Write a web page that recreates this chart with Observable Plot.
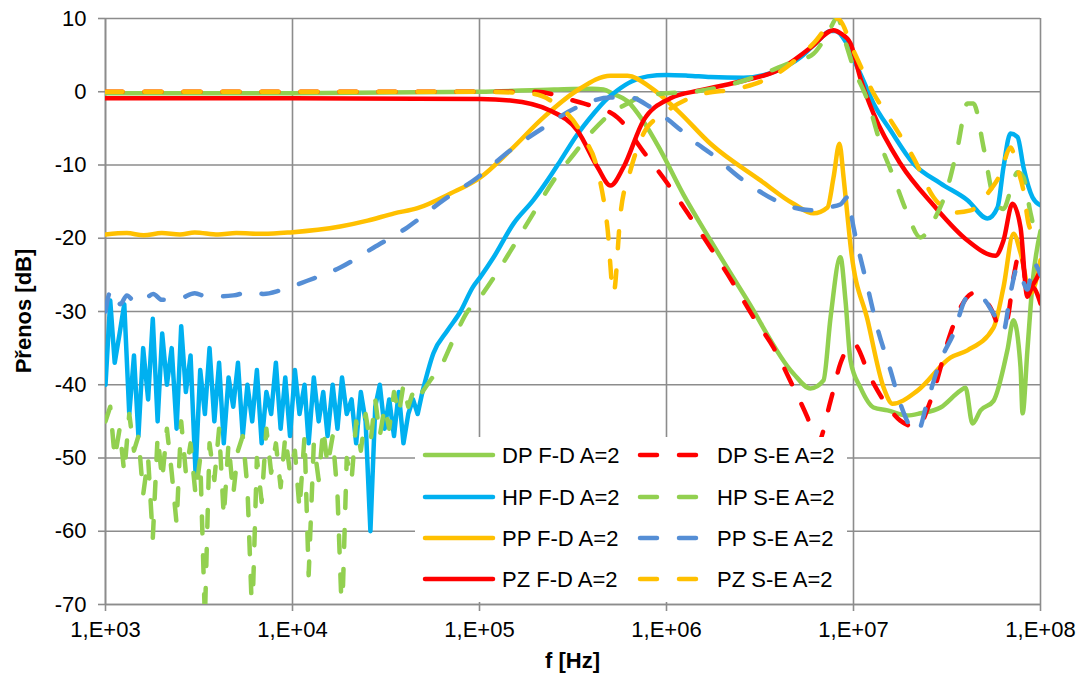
<!DOCTYPE html>
<html><head><meta charset="utf-8">
<script src="https://cdn.jsdelivr.net/npm/d3@7"></script>
<script src="https://cdn.jsdelivr.net/npm/@observablehq/plot@0.6"></script>
<style>html,body{margin:0;padding:0;background:#fff;} #chart{width:1083px;height:677px;position:relative;}</style>
</head><body><div id="chart"></div>
<script>
// ---- data ----
const seriesNames = ["DP F-D A=2","HP F-D A=2","PP F-D A=2","PZ F-D A=2","DP S-E A=2","HP S-E A=2","PP S-E A=2","PZ S-E A=2"];
const xTicks = [1e3,1e4,1e5,1e6,1e7,1e8];
const yTicks = [-70,-60,-50,-40,-30,-20,-10,0,10];

// low-frequency noisy region (shared frequencies for HP curves)
const freqNoise = [1000,1060,1120,1190,1260,1340,1420,1500,1590,1690,1790,1900,2010,2130,2260,2400,2540,2690,2850,3030,3210,3400,3600,3820,4050,4290,4550,4820,5110,5420,5740,6090,6450,6840,7250,7690,8150,8640,9150,9700,10300,10900,11600,12200,13000,13800,14600,15400,16400,17400,18400,19500,20700,21900,23200,24600,26100,27700,29300,31100,32900,34900,37000,39200,41600,44100,46700,49500];
const hpFDNoise = [-40,-28.5,-37,-33,-29,-44,-36,-47,-35,-42,-31,-45,-33,-40,-35,-46,-32,-41,-36,-52,-38,-44,-35,-45,-37,-48,-39,-43,-37,-47,-40,-45,-38,-48,-41,-44,-37,-46,-39,-47,-38,-44,-40,-48,-39,-45,-41,-47,-40,-46,-39,-44,-42,-48,-41,-45,-60,-43,-40,-46,-42,-47,-41,-48,-44,-42,-44,-41];
const hpSENoise = [-45,-43,-50,-46,-52,-44,-49,-47,-55,-50,-61,-47,-53,-46,-52,-59,-45,-52,-48,-55,-50,-72,-48,-53,-46,-58,-48,-55,-49,-47,-54,-72,-50,-56,-46,-52,-48,-54,-47,-52,-49,-57,-47,-66,-48,-53,-46,-51,-47,-55,-72,-50,-53,-45,-49,-44,-48,-42,-47,-43,-46,-41,-44,-40,-43,-41,-42,-41];

const dpFD = [[1e3,-0.2],[1e4,-0.2],[1e5,0],[2.5e5,0.3],[4e5,0.4],[4.6e5,0.3],[5.2e5,-0.3],[6.19e5,-1.3],[7.5e5,-4],[9.29e5,-8],[1.23e6,-14],[1.72e6,-20.3],[2.71e6,-28.5],[4.78e6,-38.5],[5.89e6,-40.5],[6.91e6,-39.4],[7.54e6,-30.8],[8.51e6,-22.6],[9.06e6,-28.5],[9.64e6,-36.7],[1.09e7,-40.4],[1.28e7,-43.1],[1.52e7,-43.5],[1.94e7,-44.2],[2.28e7,-43.9],[2.92e7,-43.1],[3.73e7,-40.8],[3.97e7,-40.4],[4.33e7,-45.3],[4.78e7,-43.5],[5.61e7,-42.2],[6.65e7,-35.3],[7.17e7,-31.2],[7.82e7,-37.6],[8.02e7,-43.9],[8.51e7,-35.3],[9.06e7,-26.2],[1e8,-19]];
const hpFDSmooth = [[4.95e4,-41],[5.67e4,-35.7],[6.74e4,-32.6],[7.91e4,-30],[9.2e4,-26.7],[1.01e5,-25.3],[1.19e5,-22.6],[1.52e5,-18],[1.94e5,-14.8],[2.31e5,-12.1],[2.71e5,-9.4],[3.3e5,-6],[4.07e5,-3],[4.7e5,-1.2],[5.47e5,0.2],[6.5e5,1.4],[7.91e5,2.1],[1.0e6,2.3],[1.3e6,2.2],[1.72e6,2.0],[2.58e6,1.9],[3.92e6,2.9],[5.21e6,4.7],[6.5e6,7],[7.5e6,8.3],[8.0e6,8.3],[9.0e6,7],[1e7,4.5],[1.13e7,1.5],[1.28e7,-1.6],[1.58e7,-5.3],[2.09e7,-9.8],[2.92e7,-12.5],[4.07e7,-14.8],[5.21e7,-17.3],[5.89e7,-15.8],[6.34e7,-10.3],[6.91e7,-5.7],[7.54e7,-6.2],[8.11e7,-10.3],[9.06e7,-14.4],[1e8,-15.5]];
const ppFD = [[1e3,-19.5],[1.3e3,-19.3],[1.6e3,-19.6],[2e3,-19.3],[2.5e3,-19.5],[3e3,-19.2],[4e3,-19.5],[5e3,-19.3],[7e3,-19.4],[9.75e3,-19.2],[1.8e4,-18.4],[2.52e4,-17.6],[3.5e4,-16.6],[4.66e4,-15.9],[6.99e4,-13.9],[1.01e5,-11.7],[1.46e5,-8],[2.2e5,-3.5],[3.34e5,0.2],[5.02e5,2.2],[6.19e5,2.2],[8.21e5,0.6],[1.15e6,-2.6],[1.72e6,-7.1],[3.18e6,-12.1],[4.78e6,-15.3],[6.11e6,-16.6],[7.26e6,-15.8],[7.82e6,-11.7],[8.41e6,-7.1],[8.85e6,-11.7],[9.29e6,-17],[9.64e6,-21],[1.19e7,-31.2],[1.45e7,-40.4],[1.62e7,-42.6],[2.2e7,-40.8],[3.3e7,-36.3],[4.07e7,-35.3],[5.61e7,-32.2],[6.34e7,-26.7],[7.17e7,-19.4],[7.82e7,-22],[8.85e7,-27.5],[1e8,-23]];
const pzFD = [[1e3,-0.9],[1e4,-0.9],[1e5,-1.0],[1.46e5,-1.2],[2.4e5,-2.6],[3.34e5,-5.3],[4.28e5,-10.3],[5.02e5,-12.8],[5.89e5,-10.3],[7.54e5,-3.9],[1.05e6,-0.9],[1.52e6,0.2],[2.58e6,1.5],[3.92e6,2.9],[5.89e6,6],[7.82e6,8.4],[8.5e6,8.0],[9.64e6,6.6],[1.09e7,1.8],[1.28e7,-3],[1.78e7,-9.8],[2.68e7,-15.5],[4.07e7,-20.3],[5.74e7,-22.4],[6.34e7,-20.3],[7.08e7,-15.3],[7.82e7,-18.5],[8.51e7,-28],[9.06e7,-26.7],[1e8,-28.9]];
const dpSE = [[1e3,0],[1e5,0],[2e5,0],[3.18e5,-1.2],[3.6e5,-1.6],[5.47e5,-3.5],[7.54e5,-8.2],[1.01e6,-12.5],[1.3e6,-16.6],[1.72e6,-21.3],[2.28e6,-26.2],[2.92e6,-30.8],[3.73e6,-34.9],[4.78e6,-40.4],[5.68e6,-44.5],[6.42e6,-48],[7.54e6,-42.2],[8.51e6,-37.1],[1e7,-34.4],[1.23e7,-39],[1.58e7,-43.5],[1.78e7,-44.9],[2.2e7,-45.8],[2.58e7,-42.2],[3.3e7,-33],[3.73e7,-29.5],[4.38e7,-27.5],[5.41e7,-29.5],[6.11e7,-32.2],[6.65e7,-31],[7.17e7,-25.4],[7.82e7,-21.7],[8.51e7,-27.1],[9.18e7,-26.2],[1e8,-24.4]];
const hpSESmooth = [[4.95e4,-41],[5.6e4,-39],[6.18e4,-37.6],[7.2e4,-34],[8.63e4,-30],[9.76e4,-28.5],[1.19e5,-25.4],[1.46e5,-21.8],[1.94e5,-16.6],[2.49e5,-12.1],[3.2e5,-8.5],[3.92e5,-5.7],[5.02e5,-3],[6.19e5,-1.6],[7.5e5,-0.6],[1.0e6,-0.2],[1.39e6,0],[2.58e6,1.5],[4.44e6,3.8],[6.11e6,5.2],[7.3e6,8],[8.21e6,10.1],[9.0e6,7],[1e7,3.3],[1.19e7,-1.2],[1.39e7,-7],[1.64e7,-11.7],[1.94e7,-16.6],[2.28e7,-19.9],[2.68e7,-17.6],[3.18e7,-13.1],[3.6e7,-7.6],[4.07e7,-1.6],[4.38e7,-1.6],[4.96e7,-7.6],[5.61e7,-14.4],[6.34e7,-16],[6.91e7,-13.5],[7.54e7,-11],[8.11e7,-11.7],[8.85e7,-16.6],[9.64e7,-19.9],[1e8,-20]];
const ppSE = [[1e3,-30],[1.05e3,-27.5],[1.1e3,-27.1],[1.2e3,-29],[1.3e3,-27.8],[1.45e3,-28.8],[1.6e3,-28.5],[1.8e3,-27.6],[2.0e3,-28.4],[2.52e3,-28.2],[3e3,-27.5],[3.5e3,-28],[4.83e3,-27.8],[6e3,-27.3],[7e3,-27.6],[8.63e3,-27.1],[1.2e4,-25.8],[1.8e4,-24],[2.71e4,-21.3],[4.12e4,-18.5],[6.41e4,-14.8],[9.76e4,-11.7],[1.46e5,-8],[2.2e5,-4.9],[3.34e5,-2.1],[5.02e5,-0.8],[6.42e5,-0.8],[8.21e5,-2.1],[1.15e6,-4.9],[1.39e6,-6.7],[1.72e6,-8.4],[2.58e6,-12.1],[4.78e6,-15.8],[6.11e6,-16.2],[7.26e6,-15.8],[8.5e6,-15.4],[9.29e6,-14.4],[1e7,-18.5],[1.19e7,-26.7],[1.34e7,-32.2],[1.58e7,-38.1],[1.78e7,-42.6],[2.09e7,-46.2],[2.2e7,-46.4],[2.49e7,-42.2],[2.92e7,-36.7],[3.43e7,-33],[4.07e7,-28.1],[4.78e7,-28.1],[5.61e7,-30.3],[6.34e7,-32.6],[6.91e7,-27.5],[7.54e7,-24],[8.51e7,-27],[9.18e7,-23.4],[1e8,-25]];
const pzSE = [[1e3,0],[1e5,0],[1.94e5,-0.3],[2.4e5,-1.2],[3.6e5,-6.2],[4.28e5,-10.7],[4.83e5,-18.5],[5.21e5,-27.5],[5.68e5,-16.6],[6.42e5,-10.7],[7.54e5,-5.7],[9.64e5,-3],[1.46e6,-0.5],[2.58e6,0.6],[3.92e6,2.5],[6.11e6,6.6],[8.21e6,10],[1e7,5.6],[1.28e7,-0.2],[1.58e7,-3.9],[2.09e7,-9],[2.68e7,-14.4],[3.43e7,-16.5],[4.23e7,-16.2],[5.21e7,-13.9],[6.11e7,-11.2],[6.91e7,-7.6],[7.54e7,-10.5],[8.11e7,-13.5],[8.63e7,-18],[9.18e7,-19.4],[1e8,-20]];

const hpFDN = freqNoise.map((f, i) => [f, hpFDNoise[i]]);
const hpSEN = freqNoise.map((f, i) => [f, hpSENoise[i]]);

// each series: list of [points, curve] segments
const seriesSegments = [
  [[dpFD, "monotone-x"]],
  [[hpFDN, "linear"], [hpFDSmooth, "monotone-x"]],
  [[ppFD, "monotone-x"]],
  [[pzFD, "monotone-x"]],
  [[dpSE, "monotone-x"]],
  [[hpSEN, "linear"], [hpSESmooth, "monotone-x"]],
  [[ppSE, "monotone-x"]],
  [[pzSE, "monotone-x"]]
];

// ---- styles ----
const palette = ["#92D050","#00B0F0","#FFC000","#FF0000","#FF0000","#92D050","#558ED5","#FFC000"];
const dashed = [false,false,false,false,true,true,true,true];
const DASH = "17,22";
const SW = 4.5;
const GRID = "#8c8c8c";
const FONT = "'Liberation Sans', Arial, sans-serif";

const lineMarks = seriesSegments.flatMap((segs, i) => segs.map(([pts, curve]) =>
  Plot.line(pts.map(([f, db]) => ({series: seriesNames[i], f, db})), {
    x: "f", y: "db", stroke: palette[i], strokeWidth: SW,
    strokeDasharray: dashed[i] ? DASH : null,
    strokeLinecap: "round", strokeLinejoin: "round",
    curve, clip: true
  })
));

const W = 1083, H = 677, ML = 105, MR = 43, MT = 18, MB = 73;

const chart = Plot.plot({
  width: W, height: H,
  marginLeft: ML, marginRight: MR, marginTop: MT, marginBottom: MB,
  style: {fontFamily: FONT, fontSize: "22px", color: "#000", background: "#fff", overflow: "visible"},
  x: {type: "log", domain: [1e3, 1e8]},
  y: {domain: [-70, 10]},
  marks: [
    Plot.gridX(xTicks, {stroke: GRID, strokeOpacity: 1, strokeWidth: 1.6}),
    Plot.gridY(yTicks, {stroke: GRID, strokeOpacity: 1, strokeWidth: 1.6}),
    Plot.ruleX([1e3], {stroke: GRID, strokeWidth: 1.6}),
    Plot.ruleY([-70], {stroke: GRID, strokeWidth: 1.6}),
    Plot.axisX({ticks: xTicks, tickSize: 7, tickPadding: 10, stroke: GRID, strokeWidth: 1.6,
      tickFormat: d => "1,E+0" + Math.round(Math.log10(d)), label: null, fontSize: 22}),
    Plot.axisY({ticks: yTicks, tickSize: 7, tickPadding: 12, stroke: GRID, strokeWidth: 1.6,
      tickFormat: d => String(d), label: null, fontSize: 22}),
    ...lineMarks
  ]
});

const svg = d3.select(chart);
// axis titles
svg.append("text").attr("x", (ML + W - MR) / 2).attr("y", 660)
  .attr("text-anchor", "middle").attr("dominant-baseline", "central")
  .attr("font-family", FONT).attr("font-size", 22).attr("font-weight", "bold").attr("fill", "#000")
  .text("f [Hz]");
svg.append("text").attr("transform", `translate(23,${(MT + H - MB) / 2}) rotate(-90)`)
  .attr("text-anchor", "middle").attr("dominant-baseline", "central")
  .attr("font-family", FONT).attr("font-size", 22).attr("font-weight", "bold").attr("fill", "#000")
  .text("Přenos [dB]");

// legend inside plot area
const lg = svg.append("g");
lg.append("rect").attr("x", 415).attr("y", 437).attr("width", 432).attr("height", 165).attr("fill", "#fff");
const rowY = [455, 497, 538, 579];
seriesNames.forEach((name, i) => {
  const col = dashed[i] ? 1 : 0;
  const y = rowY[i % 4];
  if (col === 0) {
    lg.append("line").attr("x1", 425).attr("x2", 493).attr("y1", y).attr("y2", y)
      .attr("stroke", palette[i]).attr("stroke-width", SW).attr("stroke-linecap", "round");
  } else {
    lg.append("line").attr("x1", 640).attr("x2", 700).attr("y1", y).attr("y2", y)
      .attr("stroke", palette[i]).attr("stroke-width", SW).attr("stroke-linecap", "round")
      .attr("stroke-dasharray", DASH);
  }
  lg.append("text").attr("x", col === 0 ? 502 : 717).attr("y", y)
    .attr("text-anchor", "start").attr("dominant-baseline", "central")
    .attr("font-family", FONT).attr("font-size", 22).attr("fill", "#000")
    .text(name);
});

document.getElementById("chart").appendChild(chart);
</script></body></html>
